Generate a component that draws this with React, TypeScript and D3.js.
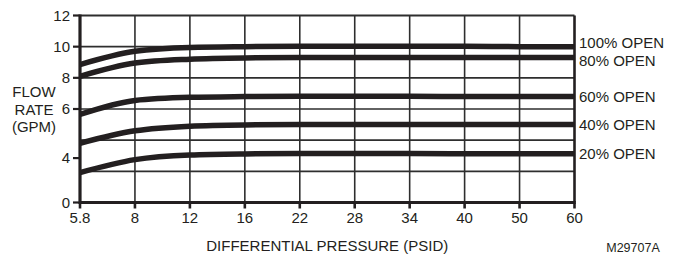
import * as d3 from "d3";
import { useEffect, useRef } from "react";

// Categories on the x axis (evenly spaced in the source chart)
const pressures = ["5.8", "8", "12", "16", "22", "28", "34", "40", "50", "60"];

// Flow rate (GPM) per valve opening
const open100 = [8.85, 9.7, 9.95, 10.0, 10.02, 10.02, 10.02, 10.02, 10.0, 10.0];
const open80 = [8.1, 8.95, 9.2, 9.28, 9.3, 9.3, 9.3, 9.3, 9.3, 9.3];
const open60 = [5.65, 6.55, 6.75, 6.8, 6.82, 6.82, 6.82, 6.8, 6.8, 6.8];
const open40 = [3.8, 4.6, 4.9, 4.98, 5.0, 5.0, 5.0, 5.0, 5.0, 5.0];
const open20 = [1.92, 2.75, 3.05, 3.12, 3.14, 3.14, 3.14, 3.13, 3.13, 3.13];

const seriesNames = ["100% OPEN", "80% OPEN", "60% OPEN", "40% OPEN", "20% OPEN"];

// Gridlines and (oddly placed) y tick labels as printed
const gridValues = [0, 2, 4, 6, 8, 10, 12];
const yTickLabels = ["12", "10", "8", "6", "4", "0"];
const yTickValues = [12, 10, 8, 6, 2.85, 0];

const yTitle = ["FLOW", "RATE", "(GPM)"];
const xTitle = "DIFFERENTIAL PRESSURE (PSID)";
const figureCode = "M29707A";

export default function App() {
  const svgRef = useRef<SVGSVGElement | null>(null);
  const width = 676;
  const height = 256;

  useEffect(() => {
    const svg = d3.select(svgRef.current);
    svg.selectAll("*").remove();

    const ink = "#231f20";
    const grid = "#2e2e2e";
    const font = "Liberation Sans, Arial, sans-serif";

    const margin = { top: 15.5, right: 101.5, bottom: 53.5, left: 80 };
    const x0 = margin.left;
    const x1 = width - margin.right;
    const y0 = height - margin.bottom;
    const y1 = margin.top;

    const xScale = d3.scalePoint<string>().domain(pressures).range([x0, x1]);
    const yScale = d3.scaleLinear().domain([0, 12]).range([y0, y1]);

    // Horizontal gridlines
    svg
      .append("g")
      .selectAll("line")
      .data(gridValues.filter((v) => v !== 0 && v !== 12))
      .enter()
      .append("line")
      .attr("x1", x0)
      .attr("x2", x1)
      .attr("y1", (d) => yScale(d))
      .attr("y2", (d) => yScale(d))
      .attr("stroke", grid)
      .attr("stroke-width", 1.6);

    // Vertical gridlines
    svg
      .append("g")
      .selectAll("line")
      .data(pressures.slice(1, -1))
      .enter()
      .append("line")
      .attr("x1", (d) => xScale(d)!)
      .attr("x2", (d) => xScale(d)!)
      .attr("y1", y1)
      .attr("y2", y0)
      .attr("stroke", grid)
      .attr("stroke-width", 1.6);

    // Curves
    const allSeries = [open100, open80, open60, open40, open20];
    const line = d3
      .line<number>()
      .x((d, i) => xScale(pressures[i])!)
      .y((d) => yScale(d))
      .curve(d3.curveMonotoneX);

    svg
      .append("g")
      .selectAll("path")
      .data(allSeries)
      .enter()
      .append("path")
      .attr("d", (d) => line(d))
      .attr("fill", "none")
      .attr("stroke", ink)
      .attr("stroke-width", 5.5);

    // Frame
    svg
      .append("line")
      .attr("x1", x0)
      .attr("x2", x1)
      .attr("y1", y1)
      .attr("y2", y1)
      .attr("stroke", grid)
      .attr("stroke-width", 2);
    svg
      .append("line")
      .attr("x1", x1)
      .attr("x2", x1)
      .attr("y1", y1)
      .attr("y2", y0)
      .attr("stroke", ink)
      .attr("stroke-width", 2.6);
    svg
      .append("line")
      .attr("x1", x0)
      .attr("x2", x1 + 1.3)
      .attr("y1", y0)
      .attr("y2", y0)
      .attr("stroke", ink)
      .attr("stroke-width", 3);
    svg
      .append("line")
      .attr("x1", x0)
      .attr("x2", x0)
      .attr("y1", y1 - 1)
      .attr("y2", y0 + 1.5)
      .attr("stroke", ink)
      .attr("stroke-width", 3.2);

    // Y ticks and labels
    const yTicks = svg.append("g");
    yTickValues.forEach((v, i) => {
      yTicks
        .append("line")
        .attr("x1", x0 - 7)
        .attr("x2", x0)
        .attr("y1", yScale(v))
        .attr("y2", yScale(v))
        .attr("stroke", ink)
        .attr("stroke-width", 2.2);
      yTicks
        .append("text")
        .attr("x", x0 - 10)
        .attr("y", yScale(v))
        .attr("dy", "0.35em")
        .attr("text-anchor", "end")
        .attr("font-family", font)
        .attr("font-size", 15)
        .attr("fill", ink)
        .text(yTickLabels[i]);
    });

    // X ticks and labels
    const xTicks = svg.append("g");
    pressures.forEach((p) => {
      xTicks
        .append("line")
        .attr("x1", xScale(p)!)
        .attr("x2", xScale(p)!)
        .attr("y1", y0)
        .attr("y2", y0 + 6)
        .attr("stroke", ink)
        .attr("stroke-width", 2.6);
      xTicks
        .append("text")
        .attr("x", xScale(p)!)
        .attr("y", y0 + 15)
        .attr("dy", "0.35em")
        .attr("text-anchor", "middle")
        .attr("font-family", font)
        .attr("font-size", 15)
        .attr("fill", ink)
        .text(p);
    });

    // Series labels at the right end, spread apart when too close
    const ends = allSeries.map((s) => yScale(s[s.length - 1]));
    const labelY = ends.slice();
    const minGap = 18;
    for (let i = 1; i < labelY.length; i++) {
      if (labelY[i] - labelY[i - 1] < minGap) {
        const mid = (ends[i] + ends[i - 1]) / 2;
        labelY[i - 1] = mid - minGap / 2;
        labelY[i] = mid + minGap / 2;
      }
    }
    svg
      .append("g")
      .selectAll("text")
      .data(seriesNames)
      .enter()
      .append("text")
      .attr("x", x1 + 4.5)
      .attr("y", (d, i) => labelY[i])
      .attr("dy", "0.35em")
      .attr("font-family", font)
      .attr("font-size", 15)
      .attr("fill", ink)
      .text((d) => d);

    // Axis titles
    svg
      .append("text")
      .attr("x", (x0 + x1) / 2)
      .attr("y", 246)
      .attr("dy", "0.35em")
      .attr("text-anchor", "middle")
      .attr("font-family", font)
      .attr("font-size", 15)
      .attr("fill", ink)
      .text(xTitle);

    svg
      .append("g")
      .selectAll("text")
      .data(yTitle)
      .enter()
      .append("text")
      .attr("x", 34)
      .attr("y", (d, i) => 92 + i * 17.5)
      .attr("dy", "0.35em")
      .attr("text-anchor", "middle")
      .attr("font-family", font)
      .attr("font-size", 15)
      .attr("fill", ink)
      .text((d) => d);

    svg
      .append("text")
      .attr("x", 633)
      .attr("y", 248)
      .attr("dy", "0.35em")
      .attr("text-anchor", "middle")
      .attr("font-family", font)
      .attr("font-size", 12.5)
      .attr("fill", ink)
      .text(figureCode);
  }, []);

  return (
    <svg
      ref={svgRef}
      width={width}
      height={height}
      style={{ position: "absolute", left: 0, top: 0, background: "#fff" }}
    ></svg>
  );
}
